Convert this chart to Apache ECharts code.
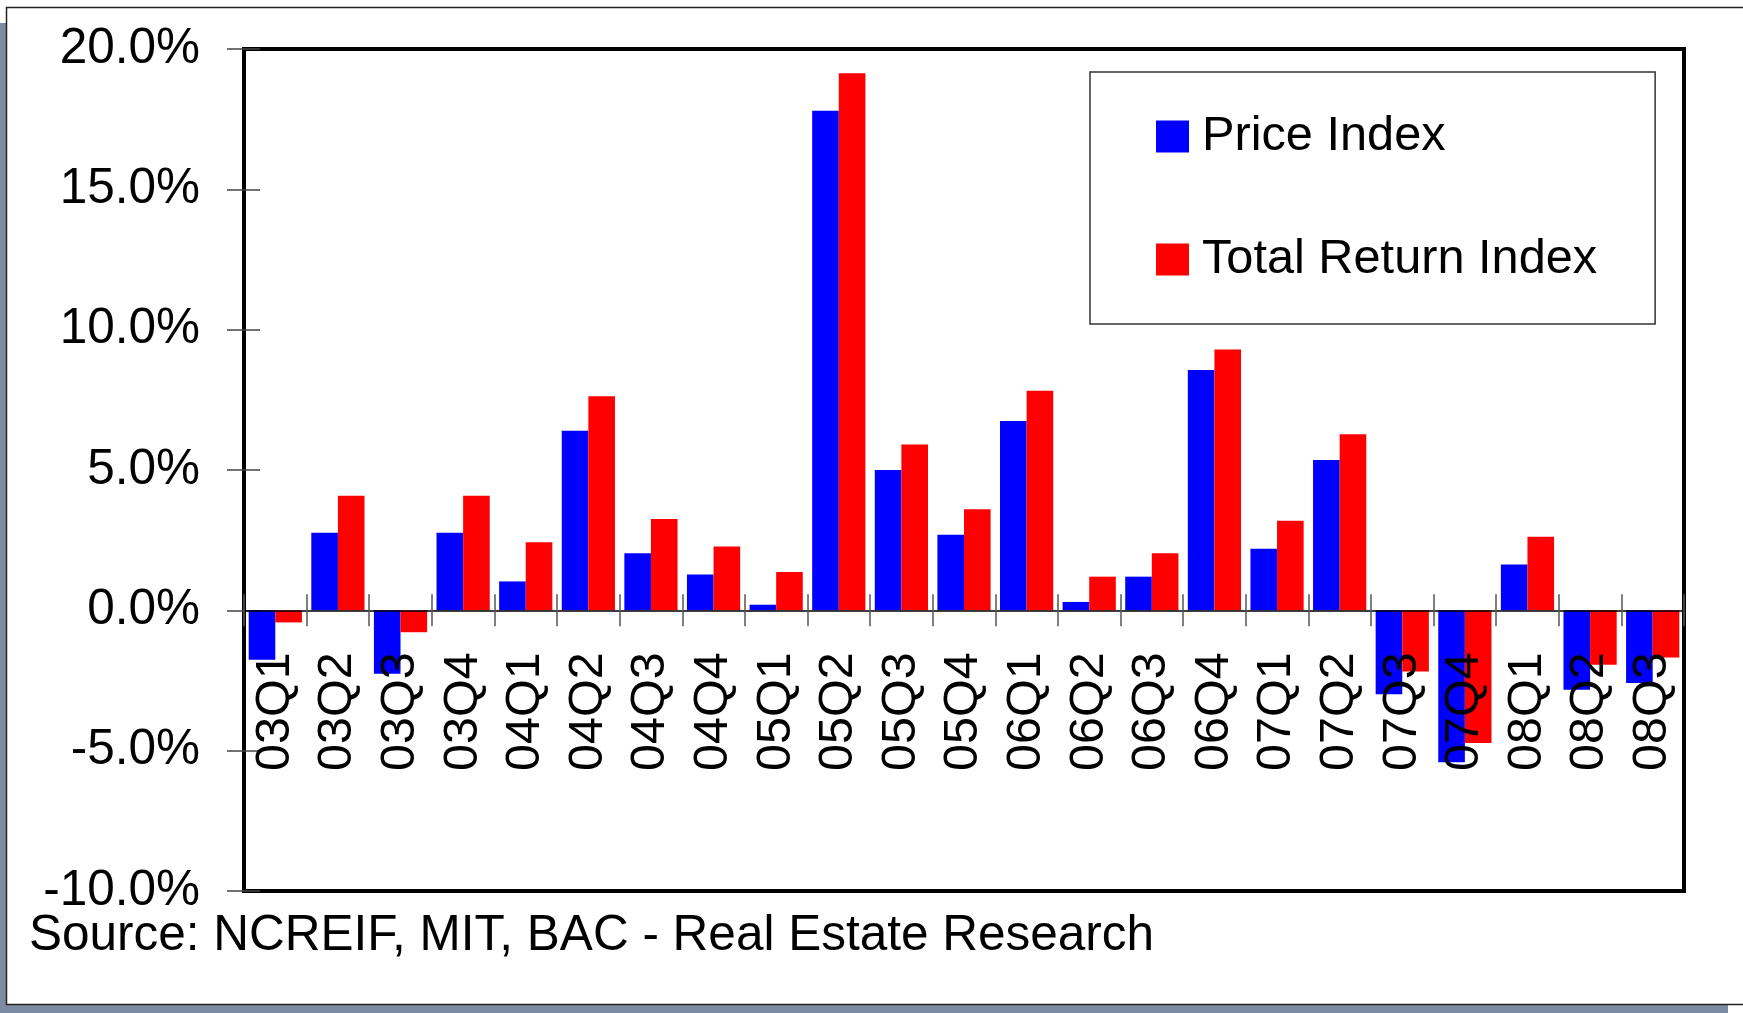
<!DOCTYPE html>
<html>
<head>
<meta charset="utf-8">
<script src="https://cdn.jsdelivr.net/npm/echarts@6/dist/echarts.min.js"></script>
<style>
  html, body { margin: 0; padding: 0; background: #fff; }
  #chart { width: 1743px; height: 1013px; }
</style>
</head>
<body>
<div id="chart"></div>
<script>
var categories = ['03Q1', '03Q2', '03Q3', '03Q4', '04Q1', '04Q2', '04Q3', '04Q4',
    '05Q1', '05Q2', '05Q3', '05Q4', '06Q1', '06Q2', '06Q3', '06Q4',
    '07Q1', '07Q2', '07Q3', '07Q4', '08Q1', '08Q2', '08Q3'];
var priceIndex = [-1.76, 2.76, -2.26, 2.76, 1.03, 6.40, 2.03, 1.28,
    0.20, 17.80, 5.00, 2.69, 6.75, 0.30, 1.20, 8.56,
    2.19, 5.36, -2.99, -5.41, 1.63, -2.83, -2.59];
var totalReturnIndex = [-0.43, 4.08, -0.78, 4.08, 2.43, 7.63, 3.25, 2.27,
    1.37, 19.14, 5.91, 3.60, 7.82, 1.20, 2.03, 9.29,
    3.19, 6.27, -2.18, -4.73, 2.62, -1.94, -1.68];
var seriesNames = ['Price Index', 'Total Return Index'];
var sourceText = 'Source: NCREIF, MIT, BAC - Real Estate Research';
var yMin = -10, yMax = 20, yStep = 5;

var font = "'Liberation Sans', Arial, sans-serif";
var chartDom = document.getElementById('chart');
var myChart = echarts.init(chartDom);
var option;

// grid box
var gridTop = 49, gridBottom = 122;
var gridHeight = 1013 - gridTop - gridBottom;
// move the category axis up from the grid bottom to the 0% line
var zeroOffset = -gridHeight * (0 - yMin) / (yMax - yMin);

option = {
    animation: false,
    backgroundColor: '#fff',
    textStyle: { fontFamily: font, color: '#000' },
    graphic: [
        // slide frame and shadow
        { type: 'rect', z: -10, shape: { x: 0, y: 23, width: 7, height: 990 }, style: { fill: '#7b8ba1' } },
        { type: 'rect', z: -10, shape: { x: 0, y: 1005, width: 1728, height: 8 }, style: { fill: '#7b8ba1' } },
        { type: 'rect', z: -9, shape: { x: 6.5, y: 7.5, width: 1760, height: 997 },
          style: { fill: 'none', stroke: '#222', lineWidth: 1.5 } }
    ],
    title: {
        text: sourceText,
        left: 29,
        top: 911,
        padding: 0,
        textStyle: { fontFamily: font, fontSize: 49.5, fontWeight: 'normal', color: '#000' }
    },
    legend: {
        orient: 'vertical',
        left: 1090,
        top: 72,
        padding: [40, 58, 40, 66],
        borderColor: '#333',
        borderWidth: 1.5,
        itemWidth: 33,
        itemHeight: 32,
        itemGap: 74,
        icon: 'rect',
        textStyle: { fontFamily: font, fontSize: 48.7, lineHeight: 48, color: '#000', padding: [0, 0, 0, 8] },
        data: seriesNames
    },
    grid: {
        left: 244,
        right: 59,
        top: gridTop,
        bottom: gridBottom,
        containLabel: false,
        outerBoundsMode: 'none',
        show: true,
        borderColor: '#000',
        borderWidth: 4,
        backgroundColor: 'transparent'
    },
    xAxis: [
        {
            type: 'category',
            data: categories,
            position: 'bottom',
            offset: zeroOffset,
            z: 10,
            axisLine: { onZero: false, lineStyle: { color: '#000', width: 1.5 } },
            axisTick: { show: true, inside: false, length: 16, lineStyle: { color: '#555', width: 1.5 } },
            axisLabel: { rotate: 90, margin: 42, fontFamily: font, fontSize: 48.5, color: '#000', interval: 0 },
            splitLine: { show: false }
        },
        {
            type: 'category',
            data: categories,
            position: 'bottom',
            offset: zeroOffset,
            z: 10,
            axisLine: { onZero: false, show: false },
            axisTick: { show: true, inside: true, length: 16, lineStyle: { color: '#555', width: 1.5 } },
            axisLabel: { show: false },
            splitLine: { show: false }
        }
    ],
    yAxis: [
        {
            type: 'value',
            position: 'left',
            min: yMin,
            max: yMax,
            interval: yStep,
            axisLine: { show: true, lineStyle: { color: '#000', width: 4 } },
            axisTick: { show: true, inside: false, length: 17, lineStyle: { color: '#444', width: 1.5 } },
            axisLabel: {
                margin: 44,
                fontFamily: font,
                fontSize: 49.5,
                color: '#000',
                formatter: function (v) { return v.toFixed(1) + '%'; }
            },
            splitLine: { show: false }
        },
        {
            type: 'value',
            position: 'left',
            min: yMin,
            max: yMax,
            interval: yStep,
            axisLine: { show: false },
            axisTick: { show: true, inside: true, length: 16, lineStyle: { color: '#444', width: 1.5 } },
            axisLabel: { show: false },
            splitLine: { show: false }
        }
    ],
    series: [
        {
            name: seriesNames[0],
            type: 'bar',
            data: priceIndex,
            barGap: '0%',
            barCategoryGap: '15%',
            itemStyle: { color: '#0000ff' }
        },
        {
            name: seriesNames[1],
            type: 'bar',
            data: totalReturnIndex,
            barGap: '0%',
            barCategoryGap: '15%',
            itemStyle: { color: '#ff0000' }
        }
    ]
};

option && myChart.setOption(option);
window.addEventListener('resize', function () {
    myChart.resize();
});
</script>
</body>
</html>
